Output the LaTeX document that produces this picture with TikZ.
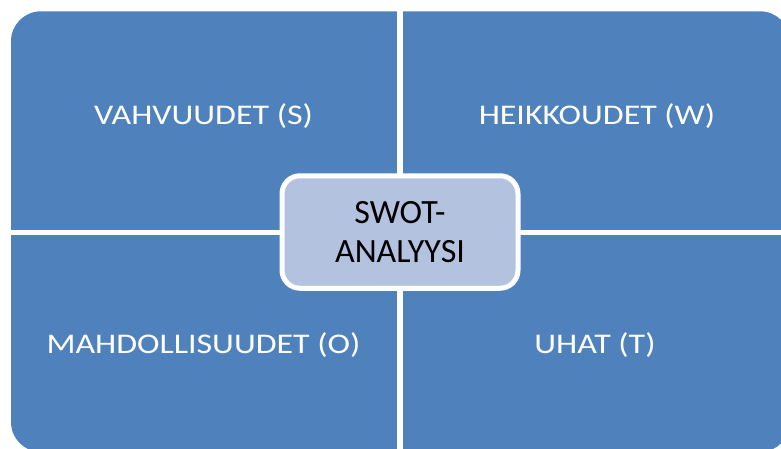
\documentclass[tikz,border=0pt]{standalone}
\usepackage{graphicx}
\usepackage{fontspec}
\setmainfont{Carlito}
\definecolor{swotblue}{RGB}{79,129,189}
\definecolor{swotlight}{RGB}{179,195,223}
\newcommand{\widetext}[1]{\scalebox{1.19}[1]{#1}}
\tikzset{
  quad/.style={fill=swotblue,rounded corners=30pt},
  gap/.style={draw=white,line width=5.4pt},
  lbl/.style={text=white,anchor=base,font=\fontsize{28.5}{35}\selectfont},
  core/.style={draw=white,line width=5pt,fill=swotlight,rounded corners=18pt,
    minimum width=236pt,minimum height=112.5pt,align=center,inner sep=0pt,
    font=\fontsize{34}{38.4}\selectfont}
}
\begin{document}
\begin{tikzpicture}[x=1pt,y=-1pt]
\useasboundingbox (0,0) rectangle (781,448);
\clip (0,0) rectangle (781,448);
\coordinate (NW) at (11,11.3);
\coordinate (SE) at (790,452);
\fill[quad] (NW) rectangle (SE);
% white cross between the four fields
\coordinate (top) at (400,0);
\coordinate (bottom) at (400,460);
\coordinate (left) at (0,232.3);
\coordinate (right) at (800,232.3);
\draw[gap] (top)--(bottom) (left)--(right);
\node[lbl] (S) at (203.5,124.3) {\widetext{VAHVUUDET (S)}};
\node[lbl] (W) at (597,124.3) {\widetext{HEIKKOUDET (W)}};
\node[lbl] (O) at (203.5,353.3) {\widetext{MAHDOLLISUUDET (O)}};
\node[lbl] (T) at (595,353.3) {\widetext{UHAT (T)}};
\node[core] (swot) at (400,232) {SWOT-\\ANALYYSI};
\end{tikzpicture}
\end{document}
